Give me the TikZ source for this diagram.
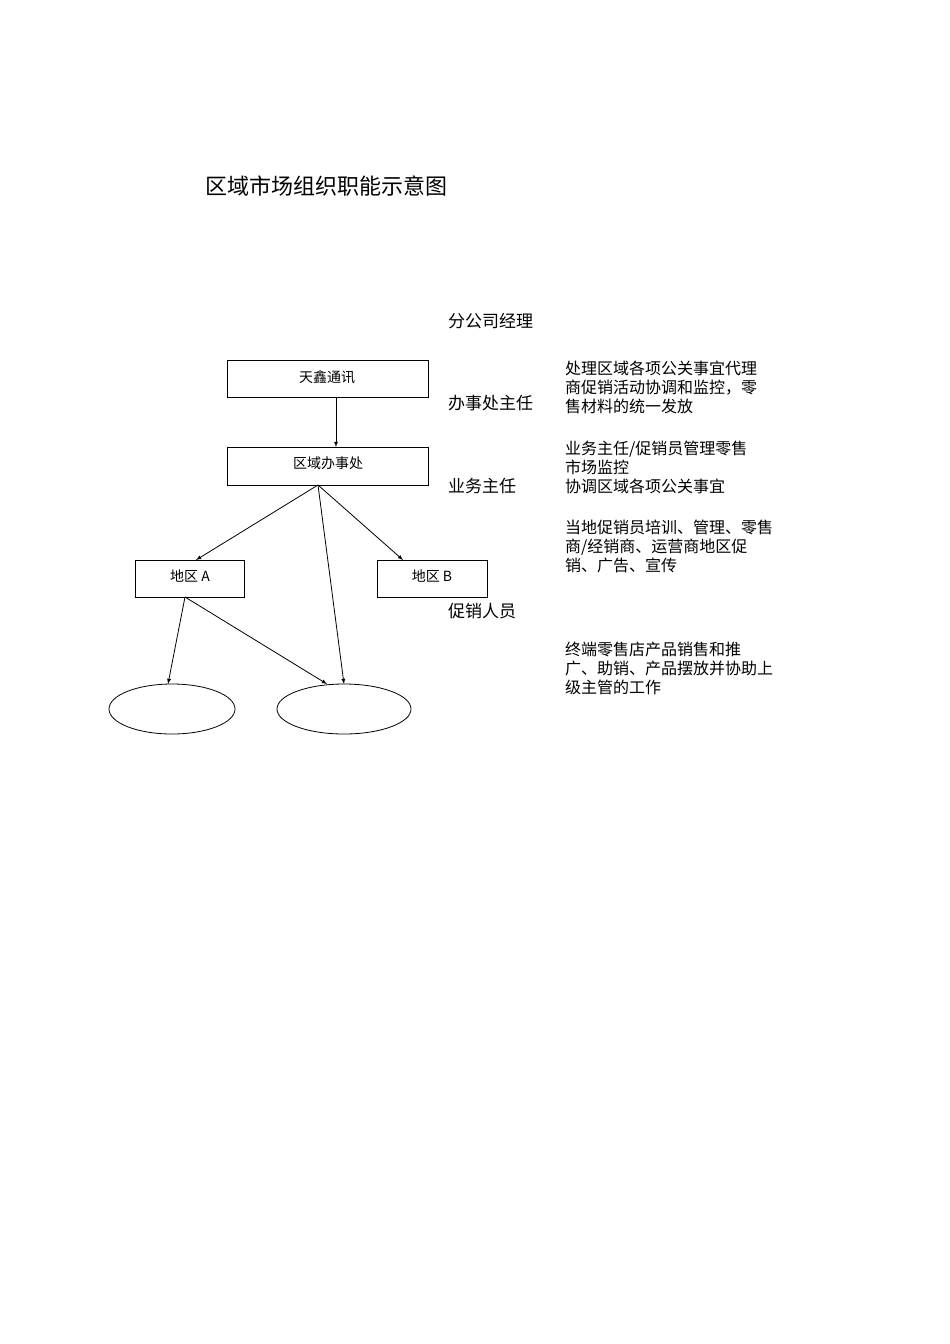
\documentclass[tikz,border=0pt]{standalone}
\usepackage{fontspec}
\usetikzlibrary{shapes.geometric}
\setmainfont{Liberation Serif}
\newfontfamily\cjk{Noto Sans CJK SC}
\begin{document}
\begin{tikzpicture}[x=1pt,y=-1pt,
  bx/.style={draw,line width=0.8pt,inner sep=0pt,font=\cjk\fontsize{14}{16}\selectfont},
  lab/.style={anchor=west,font=\cjk\fontsize{17}{19}\selectfont,inner sep=0pt},
  desc/.style={anchor=north west,align=left,inner sep=0pt,font=\cjk\fontsize{16}{19}\selectfont},
  ar/.style={-latex,line width=0.8pt}]
\useasboundingbox (0,0) rectangle (950,1344);
\node[anchor=west,inner sep=0pt,font=\cjk\fontsize{22}{24}\selectfont] (title) at (205,186) {区域市场组织职能示意图};
\draw[line width=0.8pt] (227,360) rectangle (428,397);
\node[bx,draw=none] (t1) at (327,377) {天鑫通讯};
\coordinate (b1) at (336,397);
\draw[line width=0.8pt] (227,447) rectangle (428,485);
\node[bx,draw=none] (t2) at (328,463) {区域办事处};
\coordinate (b2t) at (336,447);
\coordinate (b2) at (318,485);
\draw[line width=0.8pt] (135,560) rectangle (244,597);
\node[bx,draw=none] (ta) at (190,576) {地区 A};
\draw[line width=0.8pt] (377,560) rectangle (487,597);
\node[bx,draw=none] (tb) at (432,576) {地区 B};
\coordinate (at) at (196,560);
\coordinate (bt) at (403,560);
\coordinate (ab) at (185,597);
\node[draw,ellipse,line width=0.8pt,minimum width=126pt,minimum height=50pt,inner sep=0pt] (e1) at (172,709) {};
\node[draw,ellipse,line width=0.8pt,minimum width=134pt,minimum height=50pt,inner sep=0pt] (e2) at (344,709) {};
\coordinate (e1t) at (168,684);
\coordinate (e2t) at (344,684);
\coordinate (e2l) at (327,684);
\draw[ar] (b1) -- (b2t);
\draw[ar] (b2) -- (at);
\draw[ar] (b2) -- (e2t);
\draw[ar] (b2) -- (bt);
\draw[ar] (ab) -- (e1t);
\draw[ar] (ab) -- (e2l);
\node[lab] (l1) at (448,321) {分公司经理};
\node[lab] (l2) at (448,403) {办事处主任};
\node[lab] (l3) at (448,486) {业务主任};
\node[lab] (l4) at (448,611) {促销人员};
\node[desc] (d1) at (565,361) {处理区域各项公关事宜代理\\商促销活动协调和监控，零\\售材料的统一发放};
\node[desc] (d2) at (565,441) {业务主任/促销员管理零售\\市场监控\\协调区域各项公关事宜};
\node[desc] (d3) at (565,520) {当地促销员培训、管理、零售\\商/经销商、运营商地区促\\销、广告、宣传};
\node[desc] (d4) at (565,642) {终端零售店产品销售和推\\广、助销、产品摆放并协助上\\级主管的工作};
\end{tikzpicture}
\end{document}
